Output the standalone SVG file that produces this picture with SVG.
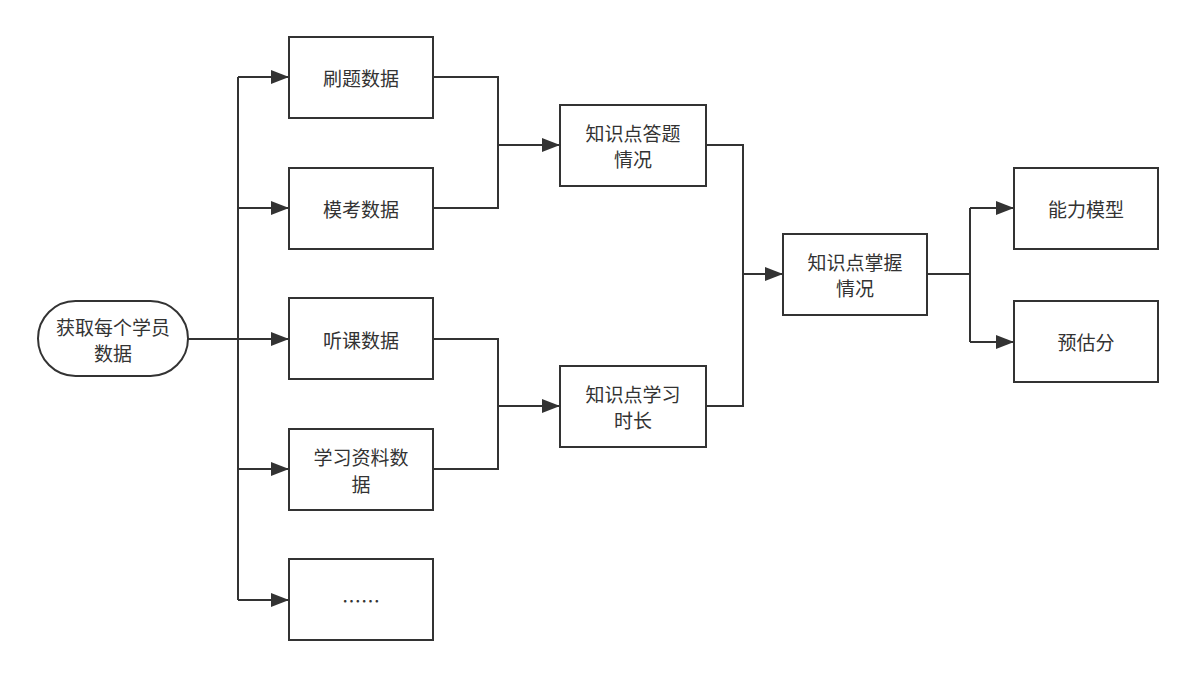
<svg xmlns="http://www.w3.org/2000/svg" width="1195" height="678" viewBox="0 0 1195 678">
<style>
.box{fill:#fff;stroke:#333;stroke-width:2}
.t{font-family:"Noto Sans CJK SC","Liberation Sans",sans-serif;font-size:19px;fill:#333;text-anchor:middle;dominant-baseline:central}
.c{fill:none;stroke:#333;stroke-width:2}
</style>
<defs>
<marker id="ah" markerUnits="userSpaceOnUse" markerWidth="20" markerHeight="16" refX="18" refY="7" orient="auto">
<path d="M0,0 L18,7 L0,14 Z" fill="#333"/>
</marker>
</defs>
<rect width="1195" height="678" fill="#fff"/>
<g id="connectors">
<path class="c" d="M238,77 V600"/>
<path class="c" d="M188,339 H289" marker-end="url(#ah)"/>
<path class="c" d="M238,77 H289" marker-end="url(#ah)"/>
<path class="c" d="M238,208 H289" marker-end="url(#ah)"/>
<path class="c" d="M238,469 H289" marker-end="url(#ah)"/>
<path class="c" d="M238,600 H289" marker-end="url(#ah)"/>
<path class="c" d="M433,77 H498 V208 H433"/>
<path class="c" d="M498,145 H560" marker-end="url(#ah)"/>
<path class="c" d="M433,339 H498 V469 H433"/>
<path class="c" d="M498,406 H560" marker-end="url(#ah)"/>
<path class="c" d="M706,145 H743 V406 H706"/>
<path class="c" d="M743,274 H783" marker-end="url(#ah)"/>
<path class="c" d="M927,274 H970"/>
<path class="c" d="M970,208 V342"/>
<path class="c" d="M970,208 H1014" marker-end="url(#ah)"/>
<path class="c" d="M970,342 H1014" marker-end="url(#ah)"/>
</g>
<g id="start">
<rect class="box" x="38" y="301" width="150" height="75" rx="37.5"/>
<text class="t" x="113" y="326">获取每个学员</text>
<text class="t" x="113" y="352">数据</text>
</g>
<g id="n1"><rect class="box" x="289" y="37" width="144" height="81"/><text class="t" x="361" y="77.5">刷题数据</text></g>
<g id="n2"><rect class="box" x="289" y="168" width="144" height="81"/><text class="t" x="361" y="208.5">模考数据</text></g>
<g id="n3"><rect class="box" x="289" y="298" width="144" height="81"/><text class="t" x="361" y="339">听课数据</text></g>
<g id="n4"><rect class="box" x="289" y="429" width="144" height="81"/><text class="t" x="361" y="456">学习资料数</text><text class="t" x="361" y="483">据</text></g>
<g id="n5"><rect class="box" x="289" y="559" width="144" height="81"/><text class="t" x="361" y="600">……</text></g>
<g id="m1"><rect class="box" x="560" y="105" width="146" height="81"/><text class="t" x="633" y="132">知识点答题</text><text class="t" x="633" y="158">情况</text></g>
<g id="m2"><rect class="box" x="560" y="366" width="146" height="81"/><text class="t" x="633" y="393">知识点学习</text><text class="t" x="633" y="419">时长</text></g>
<g id="k"><rect class="box" x="783" y="234" width="144" height="81"/><text class="t" x="855" y="261">知识点掌握</text><text class="t" x="855" y="287">情况</text></g>
<g id="o1"><rect class="box" x="1014" y="168" width="144" height="81"/><text class="t" x="1086" y="208.5">能力模型</text></g>
<g id="o2"><rect class="box" x="1014" y="301" width="144" height="81"/><text class="t" x="1086" y="341.5">预估分</text></g>
</svg>
